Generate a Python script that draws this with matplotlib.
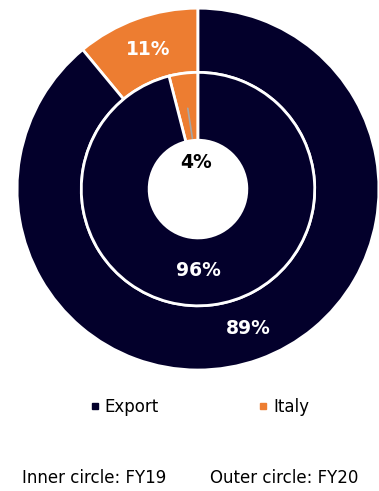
import matplotlib.pyplot as plt
from matplotlib.lines import Line2D
import numpy as np

# data
categories = ['Italy', 'Export']
fy19 = [4, 96]   # inner circle
fy20 = [11, 89]  # outer circle
colors = ['#ED7D31', '#03002B']

plt.rcParams['font.family'] = ['DejaVu Sans']

fig = plt.figure(figsize=(3.79, 4.91), dpi=100)
ax = fig.add_axes([0.0449, 0.2464, 0.955, 0.737])

wp = dict(edgecolor='white', linewidth=2)
ax.pie(fy20, colors=colors, radius=1.0, startangle=90, counterclock=True,
       wedgeprops=dict(width=0.355, **wp))
ax.pie(fy19, colors=colors, radius=0.645, startangle=90, counterclock=True,
       wedgeprops=dict(width=0.375, **wp))
ax.set_xlim(-1, 1)
ax.set_ylim(-1, 1)
ax.set_aspect('equal')
ax.axis('off')


def mid_angles(vals):
    c = np.cumsum([0] + list(vals))
    tot = c[-1]
    return [np.deg2rad(90 + 360 * (c[i] + c[i + 1]) / 2 / tot) for i in range(len(vals))]


# outer labels
for v, a in zip(fy20, mid_angles(fy20)):
    ax.text(0.82 * np.cos(a), 0.82 * np.sin(a), f'{v}%', color='white',
            fontsize=13.5, fontweight='bold', ha='center', va='center')

# inner labels
ang19 = mid_angles(fy19)
ax.text(0, -0.45, f'{fy19[1]}%', color='white', fontsize=13.5, fontweight='bold',
        ha='center', va='center')
a = ang19[0]
ax.annotate(f'{fy19[0]}%', xy=(0.45 * np.cos(a), 0.45 * np.sin(a)), xytext=(-0.01, 0.145),
            ha='center', va='center', fontsize=13.5, fontweight='bold', color='black',
            arrowprops=dict(arrowstyle='-', color='#A6A6A6', lw=1.2, shrinkA=9, shrinkB=0))

handles = [Line2D([], [], marker='s', linestyle='', color=colors[1], markersize=4),
           Line2D([], [], marker='s', linestyle='', color=colors[0], markersize=4)]
fig.legend(handles, ['Export', 'Italy'], loc='center left', bbox_to_anchor=(0.212, 0.171),
           ncol=2, frameon=False, fontsize=12, columnspacing=5.9, handletextpad=0.25,
           handlelength=0.7, borderpad=0)

fig.text(0.058, 0.026, 'Inner circle: FY19', fontsize=12, ha='left', va='center')
fig.text(0.554, 0.026, 'Outer circle: FY20', fontsize=12, ha='left', va='center')

fig.savefig('out.png', dpi=100)
